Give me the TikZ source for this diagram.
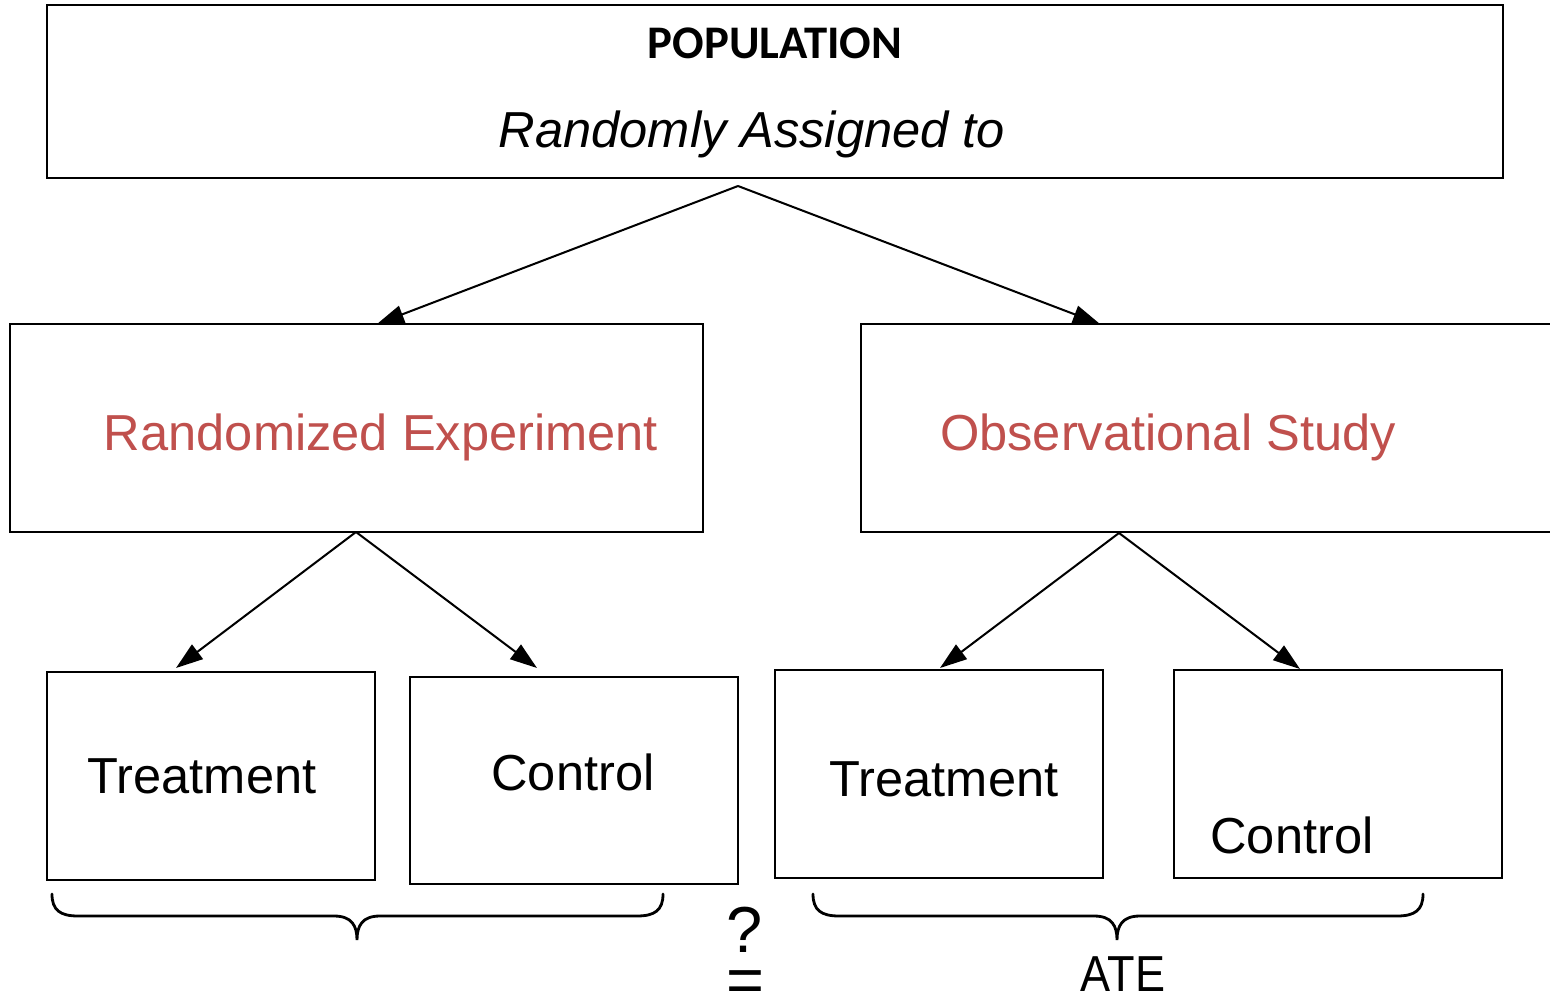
\documentclass[tikz,border=0pt]{standalone}
\usepackage{fontspec}
\setmainfont{Liberation Sans}
\newfontfamily\carlito{Carlito}
\usetikzlibrary{arrows.meta,fit}
\definecolor{redtxt}{RGB}{192,80,77}
\begin{document}
\begin{tikzpicture}[x=0.02cm,y=-0.02cm,
  box/.style={draw=black, line width=1.5pt, rectangle, inner sep=0pt},
  lbl/.style={font=\fontsize{28.8}{34}\selectfont, inner sep=0pt, anchor=base},
  redlbl/.style={lbl, text=redtxt},
  arr/.style={draw=black, line width=1.15pt, -{Triangle[length=0.54cm,width=0.36cm]}},
  brace/.style={draw=black, line width=1.6pt, line cap=round}]
\useasboundingbox (0,0) rectangle (1550,990);
\clip (0,0) rectangle (1550,990);
\fill[white] (0,0) rectangle (1550,990);

% boxes
\node[box, fit={(47,5) (1503,178)}] (pop) {};
\node[box, fit={(10,324) (703,532)}] (re) {};
\node[box, fit={(861,324) (1620,532)}] (os) {};
\node[box, fit={(47,672) (375,880)}] (tl) {};
\node[box, fit={(410,677) (738,884)}] (cl) {};
\node[box, fit={(775,670) (1103,878)}] (tr) {};
\node[box, fit={(1174,670) (1502,878)}] (cr) {};

% texts
\node[inner sep=0pt, anchor=base, font=\carlito\bfseries\fontsize{26.6}{30}\selectfont] (poptitle) at (775,59) {POPULATION};
\node[lbl, font=\itshape\fontsize{28.8}{34}\selectfont] (popsub) at (752,147) {Randomly Assigned to};
\node[redlbl] (retxt) at (381,450) {Randomized Experiment};
\node[redlbl] (ostxt) at (1168,450) {Observational Study};
\node[lbl] (tltxt) at (202,793) {Treatment};
\node[lbl] (cltxt) at (573,790) {Control};
\node[lbl] (trtxt) at (944,796) {Treatment};
\node[lbl] (crtxt) at (1292,853) {Control};
\node[lbl] (ate) at (1123,991) {\scalebox{0.89}[1]{ATE}};
\node[inner sep=0pt, anchor=base, font=\fontsize{37}{40}\selectfont] (qm) at (745,952) {?};
\node[inner sep=0pt, anchor=base, font=\fontsize{37}{40}\selectfont] (eq) at (745,1002) {=};

% connector points
\coordinate (popS) at (738,186);
\coordinate (reN) at (377,324);
\coordinate (osN) at (1100,324);
\coordinate (reS) at (356,532);
\coordinate (tlN) at (176,668);
\coordinate (clN) at (537,668);
\coordinate (osS) at (1119,533);
\coordinate (trN) at (940,668);
\coordinate (crN) at (1300,669);

\draw[arr] (popS) -- (reN);
\draw[arr] (popS) -- (osN);
\draw[arr] (reS) -- (tlN);
\draw[arr] (reS) -- (clN);
\draw[arr] (osS) -- (trN);
\draw[arr] (osS) -- (crN);

% braces
\draw[brace] (52,894) .. controls (52,910) and (60,916) .. (78,916) -- (334,916)
  .. controls (352,916) and (357,926) .. (357,940)
  .. controls (357,926) and (362,916) .. (380,916) -- (637,916)
  .. controls (655,916) and (663,910) .. (663,894);
\draw[brace] (813,894) .. controls (813,910) and (821,916) .. (839,916) -- (1094,916)
  .. controls (1112,916) and (1117,926) .. (1117,940)
  .. controls (1117,926) and (1122,916) .. (1140,916) -- (1397,916)
  .. controls (1415,916) and (1423,910) .. (1423,894);
\end{tikzpicture}
\end{document}
